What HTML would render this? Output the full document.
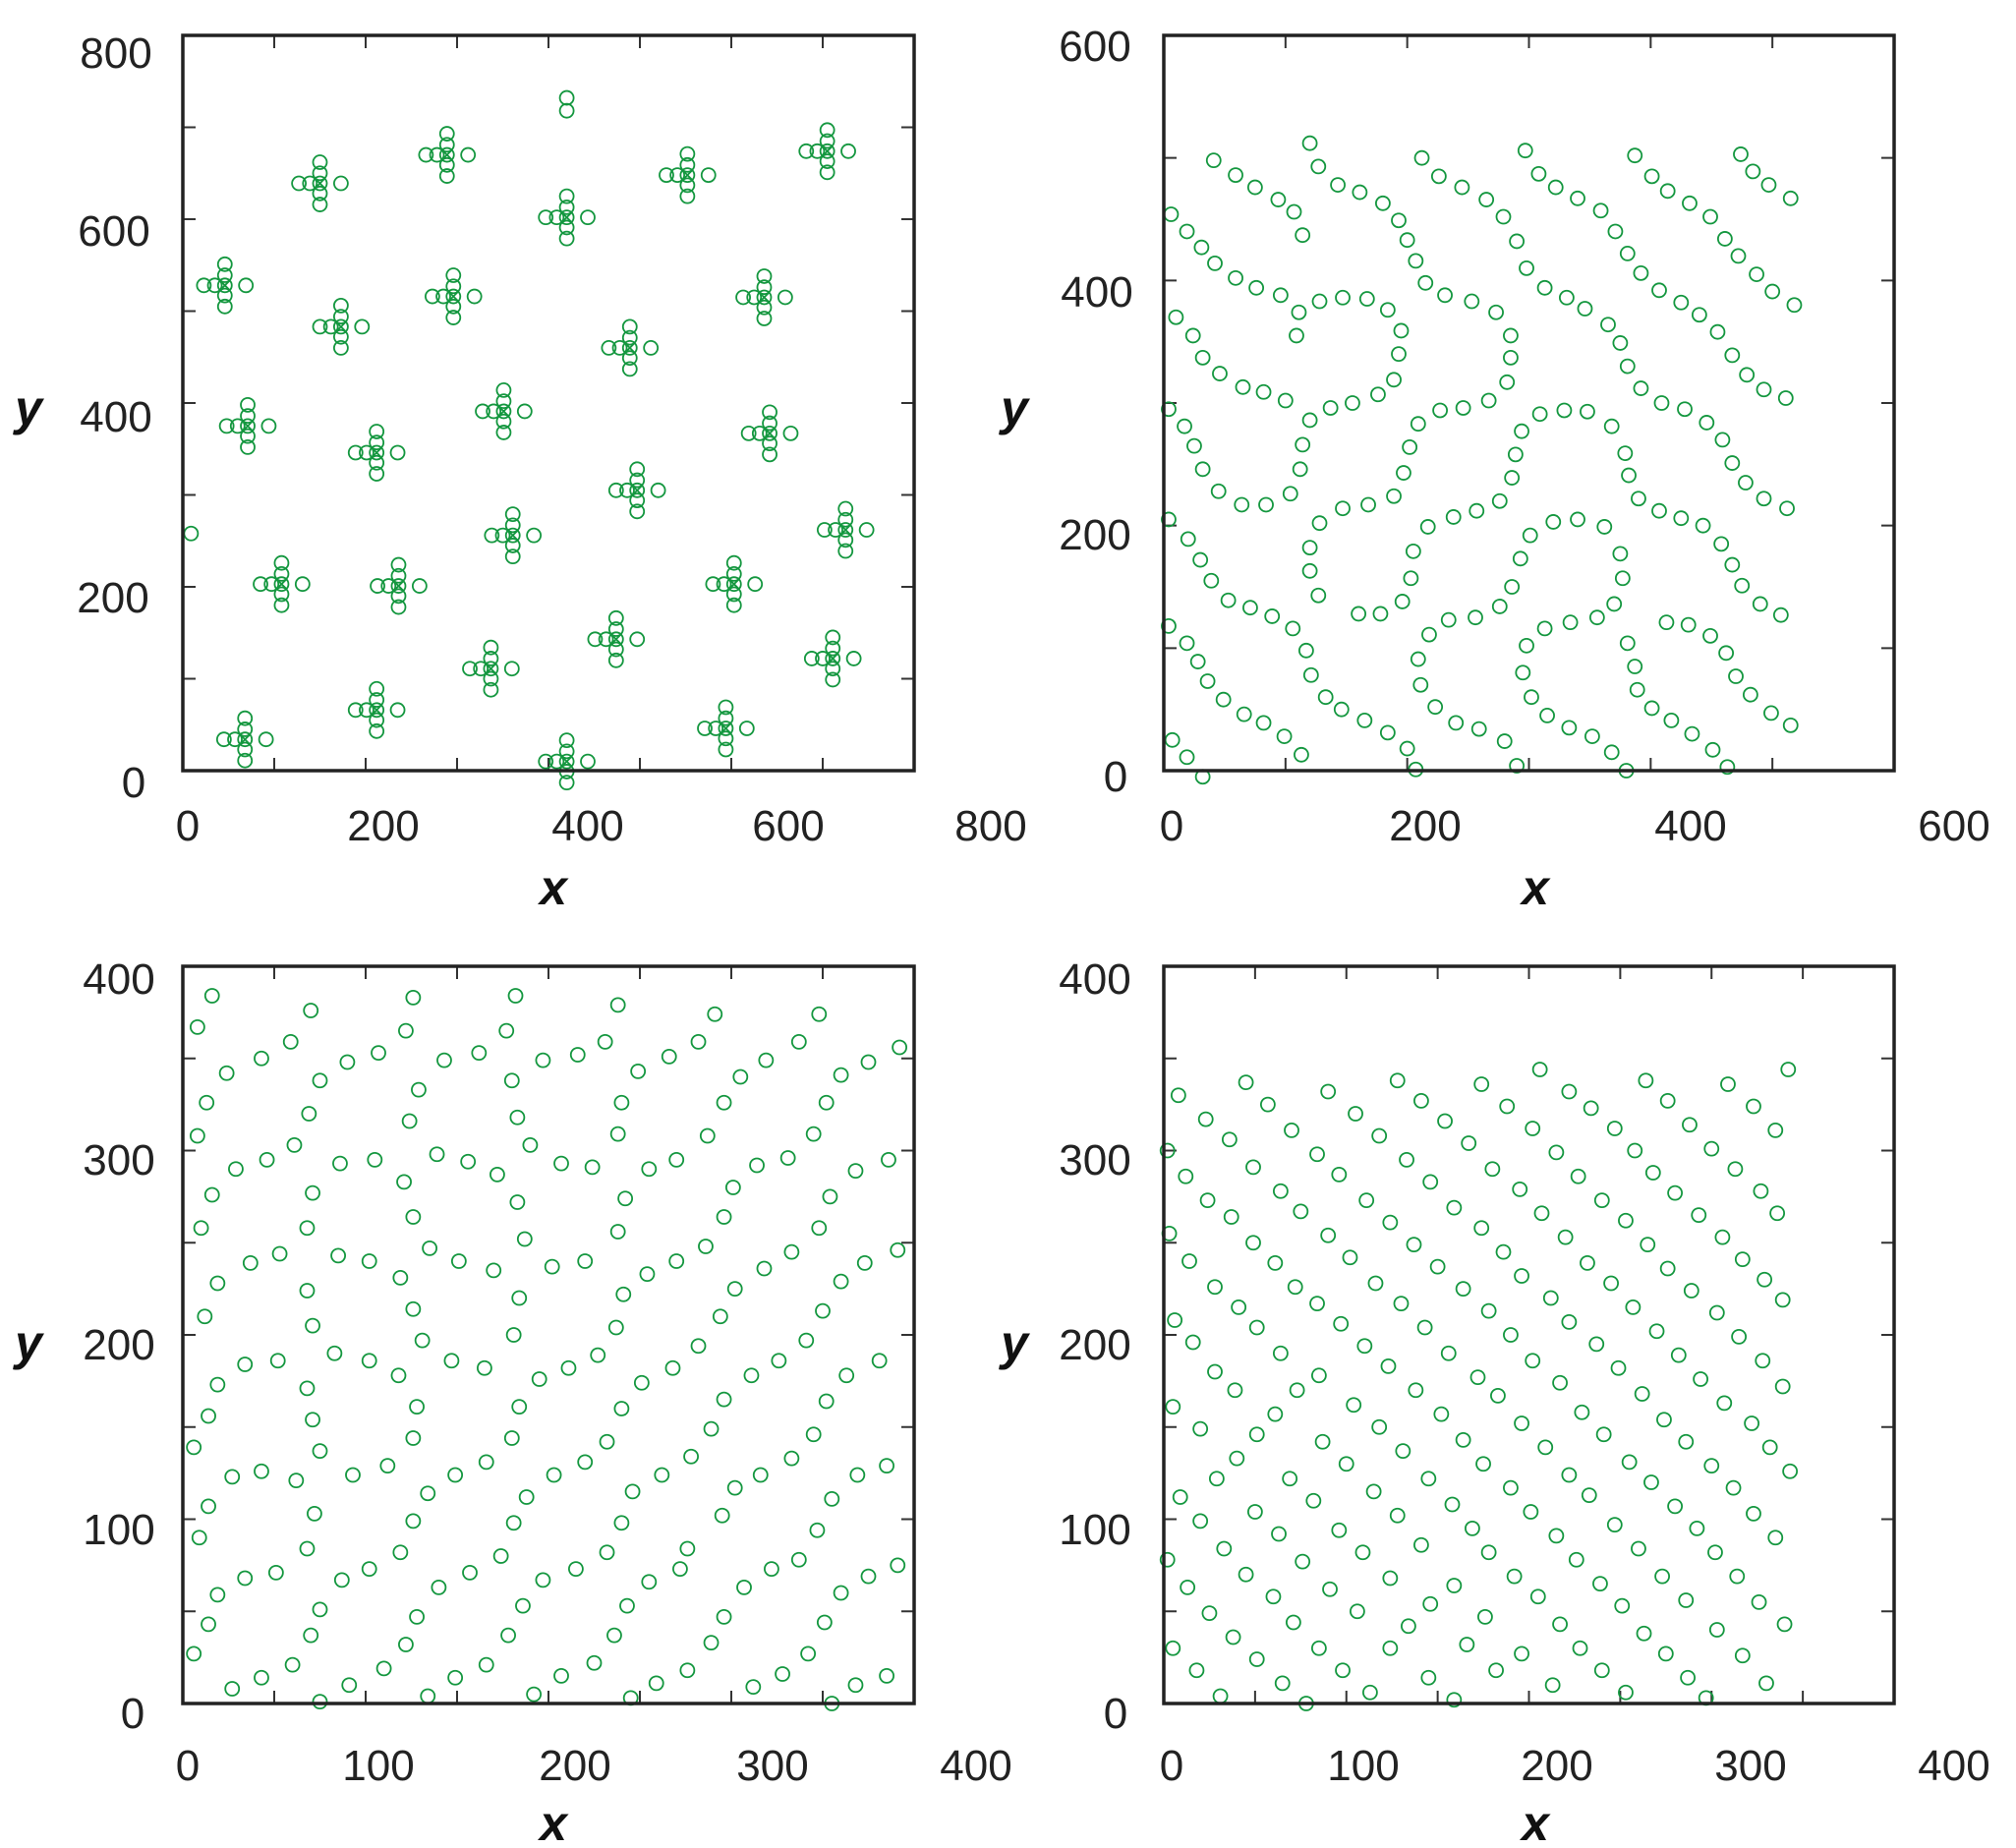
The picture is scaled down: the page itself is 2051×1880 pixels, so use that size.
<!DOCTYPE html>
<html><head><meta charset="utf-8"><style>
html,body{margin:0;padding:0;background:#fff;}
svg{display:block;}
.tl{font-family:"Liberation Sans",sans-serif;font-size:44px;fill:#222;}
.tt{font-family:"Liberation Sans",sans-serif;font-size:50px;font-weight:bold;font-style:italic;fill:#111;}
</style></head><body>
<svg id="fig" width="2051" height="1880" viewBox="0 0 2051 1880" xmlns="http://www.w3.org/2000/svg">
<g>
<text class="tl" x="118" y="69" text-anchor="middle">800</text>
<text class="tl" x="116" y="250" text-anchor="middle">600</text>
<text class="tl" x="118" y="439" text-anchor="middle">400</text>
<text class="tl" x="115" y="623" text-anchor="middle">200</text>
<text class="tl" x="136" y="811" text-anchor="middle">0</text>
<text class="tl" x="191" y="855" text-anchor="middle">0</text>
<text class="tl" x="390" y="855" text-anchor="middle">200</text>
<text class="tl" x="598" y="855" text-anchor="middle">400</text>
<text class="tl" x="802" y="855" text-anchor="middle">600</text>
<text class="tl" x="1008" y="855" text-anchor="middle">800</text>
<text class="tt" x="563" y="920" text-anchor="middle">x</text>
<text class="tt" x="29" y="432" text-anchor="middle">y</text>
</g>
<g>
<text class="tl" x="1114" y="62" text-anchor="middle">600</text>
<text class="tl" x="1116" y="312" text-anchor="middle">400</text>
<text class="tl" x="1114" y="559" text-anchor="middle">200</text>
<text class="tl" x="1135" y="805" text-anchor="middle">0</text>
<text class="tl" x="1192" y="855" text-anchor="middle">0</text>
<text class="tl" x="1450" y="855" text-anchor="middle">200</text>
<text class="tl" x="1720" y="855" text-anchor="middle">400</text>
<text class="tl" x="1988" y="855" text-anchor="middle">600</text>
<text class="tt" x="1562" y="920" text-anchor="middle">x</text>
<text class="tt" x="1032" y="432" text-anchor="middle">y</text>
</g>
<g>
<text class="tl" x="121" y="1011" text-anchor="middle">400</text>
<text class="tl" x="121" y="1195" text-anchor="middle">300</text>
<text class="tl" x="121" y="1383" text-anchor="middle">200</text>
<text class="tl" x="121" y="1571" text-anchor="middle">100</text>
<text class="tl" x="135" y="1758" text-anchor="middle">0</text>
<text class="tl" x="191" y="1811" text-anchor="middle">0</text>
<text class="tl" x="385" y="1811" text-anchor="middle">100</text>
<text class="tl" x="585" y="1811" text-anchor="middle">200</text>
<text class="tl" x="786" y="1811" text-anchor="middle">300</text>
<text class="tl" x="993" y="1811" text-anchor="middle">400</text>
<text class="tt" x="563" y="1872" text-anchor="middle">x</text>
<text class="tt" x="29" y="1383" text-anchor="middle">y</text>
</g>
<g>
<text class="tl" x="1114" y="1011" text-anchor="middle">400</text>
<text class="tl" x="1114" y="1195" text-anchor="middle">300</text>
<text class="tl" x="1114" y="1383" text-anchor="middle">200</text>
<text class="tl" x="1114" y="1571" text-anchor="middle">100</text>
<text class="tl" x="1135" y="1758" text-anchor="middle">0</text>
<text class="tl" x="1192" y="1811" text-anchor="middle">0</text>
<text class="tl" x="1387" y="1811" text-anchor="middle">100</text>
<text class="tl" x="1584" y="1811" text-anchor="middle">200</text>
<text class="tl" x="1781" y="1811" text-anchor="middle">300</text>
<text class="tl" x="1988" y="1811" text-anchor="middle">400</text>
<text class="tt" x="1562" y="1872" text-anchor="middle">x</text>
<text class="tt" x="1032" y="1383" text-anchor="middle">y</text>
</g>
</svg>
<script>
// Panel 1: cluster centres, offsets of the ring of circles, isolated points
const p1Centers = [[150,639],[289,670],[420,602],[552,648],[705,674],[46,528],[173,483],[296,516],[489,460],[636,515],[71,375],[212,346],[351,391],[642,367],[497,305],[361,256],[725,262],[108,203],[236,201],[603,203],[474,143],[711,122],[337,111],[212,66],[68,34],[594,46],[420,10]];
const p1OffsetX = [-23,23,0,0,0,0,0,-11];
const p1OffsetY = [0,0,0,23,-23,11,-11,0];
const p1Singles = [[420,732],[420,718],[9,258]];
// Panel 2
const p2Points = [[41,498],[59,486],[75,476],[94,466],[107,456],[114,437],
[120,512],[127,493],[143,478],[161,472],[180,463],[193,449],[200,433],[207,416],[215,398],[231,388],[253,383],[273,374],[285,355],[285,337],[282,317],[267,302],[246,296],[227,294],[209,283],[202,264],[197,243],[189,224],[168,217],[147,214],[128,202],[120,182],[120,163],[127,143],[160,128],[178,128],[196,138],[203,157],[205,179],[217,199],[238,207],[257,212],[276,220],[286,239],[289,258],[294,277],[309,291],[329,294],[348,293],[368,281],[379,259],[382,241],[390,222],[407,212],[425,206],[443,200],[458,185],[467,168],[475,151],[490,136],[507,127],
[212,500],[226,485],[245,476],[265,466],[279,452],[290,432],[298,410],[313,394],[331,386],[346,377],[365,364],[375,349],[381,330],[392,312],[409,300],[428,295],[446,284],[459,270],[467,251],[478,235],[493,222],[512,214],
[297,506],[308,487],[322,476],[340,467],[359,457],[371,440],[381,422],[392,406],[407,392],[425,382],[440,372],[455,358],[467,339],[479,323],[493,311],[511,304],
[387,502],[401,485],[414,473],[432,463],[449,452],[461,434],[472,420],[487,405],[500,391],[518,380],
[474,503],[484,489],[497,478],[515,467],
[6,454],[19,440],[31,427],[42,414],[59,402],[76,394],[96,388],[111,374],[109,355],
[128,383],[147,386],[167,385],[184,376],[195,359],[193,340],[189,319],[176,307],[155,300],[137,296],[120,286],[114,266],[112,246],[104,226],[84,217],[64,217],[45,228],[32,246],[25,265],[17,281],[4,295],
[10,370],[24,355],[32,337],[46,324],[65,313],[82,309],[100,302],
[4,205],[20,189],[30,172],[39,155],[53,139],[71,133],[89,126],[106,116],[117,98],[121,78],[133,60],[146,50],[165,41],[184,31],[200,18],[207,1],
[4,118],[19,104],[28,89],[36,73],[49,58],[66,46],[82,39],[99,28],[113,13],
[7,25],[19,11],[32,-5],
[218,111],[209,91],[211,70],[223,52],[240,39],[259,34],[280,24],[290,4],
[234,123],[256,125],[276,134],[286,150],[293,173],[301,192],[320,203],[340,205],[362,199],[375,177],[377,157],[370,136],[356,125],[334,121],[313,116],[298,102],[295,80],[302,60],[315,45],[333,35],[352,28],[368,15],[380,0],
[381,104],[387,85],[389,66],[401,51],[417,41],[434,30],[451,17],[463,3],
[413,121],[431,119],[449,110],[462,96],[470,77],[482,62],[499,47],[515,37]];
// Panel 3
const p3Points = [[16,384],[8,367],[70,376],[126,383],[182,384],[238,379],[291,374],[348,374],[122,365],[177,365],[59,359],[231,359],[282,359],[337,359],[392,356],[43,350],[107,353],[162,353],[216,352],[266,351],[90,348],[143,349],[197,349],[319,349],[375,348],[24,342],[249,343],[360,341],[75,338],[180,338],[305,340],[129,333],[13,326],[240,326],[296,326],[352,326],[69,320],[183,318],[124,316],[8,308],[238,309],[287,308],[345,309],[190,303],[61,303],[139,298],[46,295],[105,295],[156,294],[207,293],[29,290],[86,293],[224,291],[255,290],[270,295],[314,292],[331,296],[368,289],[386,295],[172,287],[121,283],[301,280],[16,276],[71,277],[242,274],[354,275],[183,272],[126,264],[296,264],[10,258],[68,258],[238,256],[348,258],[187,252],[286,248],[135,247],[53,244],[85,243],[391,246],[102,240],[151,240],[220,240],[37,239],[270,240],[373,239],[202,237],[170,235],[254,233],[318,236],[333,245],[119,231],[360,229],[19,228],[302,225],[68,224],[241,222],[184,220],[126,214],[350,213],[12,210],[71,205],[294,210],[237,204],[131,197],[181,200],[341,197],[83,190],[282,194],[227,189],[52,186],[102,186],[147,186],[381,186],[34,184],[165,182],[211,182],[326,186],[268,182],[311,178],[118,178],[363,178],[195,176],[19,173],[251,174],[68,171],[296,165],[352,164],[184,161],[128,161],[240,160],[14,156],[71,154],[289,149],[345,146],[180,144],[126,144],[232,142],[6,139],[75,137],[278,134],[333,133],[166,131],[220,131],[112,129],[43,126],[27,123],[93,124],[149,124],[203,124],[262,124],[316,124],[369,124],[385,129],[62,121],[302,117],[134,114],[246,115],[188,112],[355,111],[14,107],[72,103],[295,102],[126,99],[181,98],[240,98],[347,94],[9,90],[68,84],[276,84],[119,82],[232,82],[174,80],[337,78],[51,71],[102,73],[157,71],[215,73],[272,73],[322,73],[391,75],[34,68],[87,67],[197,67],[255,66],[375,69],[307,63],[140,63],[19,59],[360,60],[75,51],[243,53],[186,53],[128,47],[296,47],[351,44],[14,43],[70,37],[178,37],[236,37],[289,33],[122,32],[342,27],[6,27],[60,21],[110,19],[166,21],[225,22],[276,18],[328,16],[385,15],[43,14],[149,14],[207,15],[259,11],[368,10],[27,8],[91,10],[312,9],[192,5],[134,4],[245,3],[75,1],[355,0]];
// Panel 4
const p4Points = [[206,344],[342,344],[128,338],[264,338],[45,337],[174,336],[309,336],[8,330],[90,332],[222,332],[141,327],[57,325],[276,327],[323,324],[23,317],[105,320],[234,323],[154,316],[188,324],[247,312],[202,312],[288,314],[335,311],[70,311],[118,308],[36,306],[167,304],[2,300],[300,301],[258,300],[84,298],[215,299],[133,295],[49,291],[180,290],[313,290],[268,288],[12,286],[96,287],[227,286],[146,283],[195,279],[64,278],[327,278],[280,277],[24,273],[111,273],[240,273],[159,269],[75,267],[207,266],[293,265],[336,266],[37,264],[124,261],[253,262],[174,258],[3,255],[90,254],[220,253],[306,253],[49,250],[137,249],[265,249],[186,245],[102,242],[317,241],[14,240],[232,239],[61,239],[150,237],[276,236],[196,232],[116,228],[245,228],[329,230],[28,226],[72,226],[164,225],[289,224],[212,220],[339,219],[130,217],[41,215],[84,217],[257,215],[178,213],[222,207],[6,208],[303,212],[143,204],[97,206],[51,204],[270,202],[315,199],[190,200],[16,196],[237,195],[110,194],[64,190],[156,190],[282,189],[202,186],[328,186],[123,183],[249,182],[28,180],[172,177],[294,176],[85,178],[217,174],[339,172],[138,170],[39,170],[73,170],[183,167],[262,168],[307,163],[104,162],[5,161],[152,157],[61,157],[229,158],[196,152],[274,154],[322,152],[20,149],[118,150],[51,146],[164,143],[87,142],[241,146],[286,142],[209,139],[332,139],[131,137],[40,133],[255,131],[175,130],[100,130],[300,129],[343,126],[29,122],[69,122],[145,122],[222,124],[267,120],[9,112],[115,115],[190,117],[233,113],[312,117],[82,110],[158,108],[280,107],[50,104],[128,102],[201,104],[323,103],[20,99],[247,97],[96,94],[169,95],[63,92],[215,91],[292,95],[335,90],[141,86],[33,84],[109,82],[178,82],[260,84],[302,82],[2,78],[76,77],[226,78],[45,70],[124,68],[192,69],[273,69],[314,69],[13,63],[91,62],[159,64],[239,65],[60,58],[205,58],[286,56],[326,55],[146,54],[251,53],[25,49],[106,50],[176,47],[71,44],[217,43],[340,43],[134,42],[303,40],[263,38],[38,36],[5,30],[85,30],[124,30],[166,32],[228,30],[51,24],[196,27],[275,27],[317,26],[18,18],[98,18],[182,18],[240,18],[145,14],[287,14],[65,11],[213,10],[330,11],[113,6],[253,6],[31,4],[159,2],[297,3],[78,0]];
// Axis configs
const p1Domain = [800, 800], p2Domain = [600, 600], p3Domain = [400, 400], p4Domain = [400, 400];
const p1Step = [100, 100], p2Step = [100, 100], p3Step = [50, 50], p4Step = [50, 50];

const NS = 'http://www.w3.org/2000/svg';
const svg = document.getElementById('fig');
const GREEN = '#14973f';

function makePanel(id, box, domain, step) {
  const g = document.createElementNS(NS, 'g');
  
  
  svg.appendChild(g);
  const sx = v => box.L + v / domain[0] * (box.R - box.L);
  const sy = v => box.B - v / domain[1] * (box.B - box.T);
  const tl = 13;
  let d = '';
  for (let v = step[0]; v < domain[0] - 1e-6; v += step[0]) {
    const x = sx(v);
    d += `M${x},${box.T}v${tl}M${x},${box.B}v${-tl}`;
  }
  for (let v = step[1]; v < domain[1] - 1e-6; v += step[1]) {
    const y = sy(v);
    d += `M${box.L},${y}h${tl}M${box.R},${y}h${-tl}`;
  }
  const ticks = document.createElementNS(NS, 'path');
  ticks.setAttribute('d', d);
  ticks.setAttribute('stroke', '#333');
  ticks.setAttribute('stroke-width', '2');
  
  
  g.appendChild(ticks);
  const pts = document.createElementNS(NS, 'g');
  pts.setAttribute('fill', 'none');
  pts.setAttribute('stroke', GREEN);
  pts.setAttribute('stroke-width', '1.8');
  
  
  g.appendChild(pts);
  const frame = document.createElementNS(NS, 'rect');
  frame.setAttribute('x', box.L); frame.setAttribute('y', box.T);
  frame.setAttribute('width', box.R - box.L); frame.setAttribute('height', box.B - box.T);
  frame.setAttribute('fill', 'none'); frame.setAttribute('stroke', '#222'); frame.setAttribute('stroke-width', '3.5');
  
  
  g.appendChild(frame);
  return {sx, sy, pts};
}
function circle(P, x, y) {
  const c = document.createElementNS(NS, 'circle');
  c.setAttribute('cx', P.sx(x)); c.setAttribute('cy', P.sy(y)); c.setAttribute('r', 7);
  
  
  P.pts.appendChild(c);
}
function cross(P, x, y) {
  const px = P.sx(x), py = P.sy(y), s = 5;
  const p = document.createElementNS(NS, 'path');
  p.setAttribute('d', `M${px-s},${py-s}L${px+s},${py+s}M${px-s},${py+s}L${px+s},${py-s}`);
  
  
  P.pts.appendChild(p);
}

const P1 = makePanel('panel-1', {L:186, R:930, T:36, B:784}, p1Domain, p1Step);
p1Centers.forEach(([cx, cy]) => {
  for (let i = 0; i < p1OffsetX.length; i++) circle(P1, cx + p1OffsetX[i], cy + p1OffsetY[i]);
  cross(P1, cx, cy);
});
p1Singles.forEach(([x, y]) => circle(P1, x, y));

const P2 = makePanel('panel-2', {L:1184, R:1927, T:36, B:784}, p2Domain, p2Step);
p2Points.forEach(([x, y]) => circle(P2, x, y));
const P3 = makePanel('panel-3', {L:186, R:930, T:983, B:1733}, p3Domain, p3Step);
p3Points.forEach(([x, y]) => circle(P3, x, y));
const P4 = makePanel('panel-4', {L:1184, R:1927, T:983, B:1733}, p4Domain, p4Step);
p4Points.forEach(([x, y]) => circle(P4, x, y));
</script>
</body></html>
